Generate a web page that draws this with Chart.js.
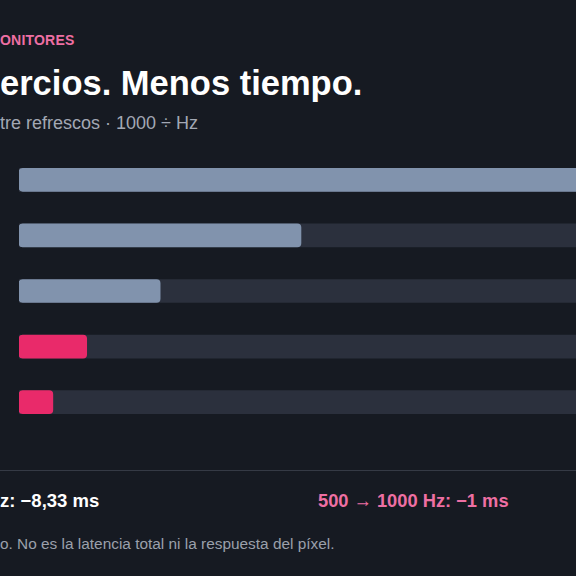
<!DOCTYPE html>
<html lang="es">
<head>
<meta charset="utf-8">
<title>Hercios y tiempo de refresco</title>
<script src="https://cdn.jsdelivr.net/npm/chart.js@4"></script>
<style>
  html, body {
    margin: 0;
    width: 576px;
    height: 576px;
    overflow: hidden;
    background: #161a22;
    font-family: "Liberation Sans", Arial, sans-serif;
  }
  .line { position: absolute; left: 0; white-space: nowrap; }
  /* the start of each line sits outside the window, to the left */
  .line .cut { position: absolute; right: 100%; top: 0; }
  .eyebrow { top: 32px; font-size: 14px; font-weight: bold; color: #ee6fa3; letter-spacing: 0.2px; }
  h1 { top: 64px; margin: 0; font-size: 34.5px; font-weight: bold; color: #ffffff; }
  .sub { top: 113px; font-size: 18px; color: #a3a8b4; }
  #wrap { position: absolute; top: 152px; left: 19px; }
  .rule { position: absolute; top: 470px; left: 0; width: 576px; height: 1px; background: #353a45; }
  .stat { top: 490px; font-size: 18.5px; font-weight: bold; }
  .foot { top: 535px; font-size: 15.4px; color: #9ba0ab; }
</style>
</head>
<body>
  <div class="line eyebrow"><span class="cut">LATENCIA · M</span>ONITORES</div>
  <h1 class="line"><span class="cut">Más h</span>ercios. Menos tiempo.</h1>
  <div class="line sub"><span class="cut">Tiempo en</span>tre refrescos · 1000 ÷ Hz</div>
  <div id="wrap"><canvas id="myChart" width="677" height="278"></canvas></div>
  <div class="rule"></div>
  <div class="line stat" style="color:#ffffff"><span class="cut">60 → 120 H</span>z: −8,33 ms</div>
  <div class="line stat" style="left:318px;font-size:18.3px;color:#ee6fa3">500 → 1000 Hz: −1 ms</div>
  <div class="line foot"><span class="cut">Solo cuenta el tiemp</span>o. No es la latencia total ni la respuesta del píxel.</div>
<script>
const rates = ["60 Hz", "120 Hz", "240 Hz", "500 Hz", "1000 Hz"];
const frameMs = [16.67, 8.33, 4.17, 2, 1];
const trackMs = [20, 20, 20, 20, 20];
const barColors = ["#8193ad", "#8193ad", "#8193ad", "#e92a6a", "#e92a6a"];

const ctx = document.getElementById("myChart").getContext("2d");
const myChart = new Chart(ctx, {
  type: "bar",
  data: {
    labels: rates,
    datasets: [
      {
        label: "ms",
        data: frameMs,
        backgroundColor: barColors,
        borderRadius: 4,
        borderSkipped: false,
        barThickness: 23,
        grouped: false,
        order: 1,
      },
      {
        label: "pista",
        data: trackMs,
        backgroundColor: "#2b303d",
        borderRadius: 0,
        barThickness: 23,
        grouped: false,
        order: 2,
      },
    ],
  },
  options: {
    indexAxis: "y",
    responsive: false,
    animation: false,
    layout: { padding: 0 },
    plugins: { legend: { display: false }, tooltip: { enabled: false } },
    scales: {
      x: { display: false, min: 0, max: 20 },
      y: { display: false },
    },
  },
});
</script>
</body>
</html>
